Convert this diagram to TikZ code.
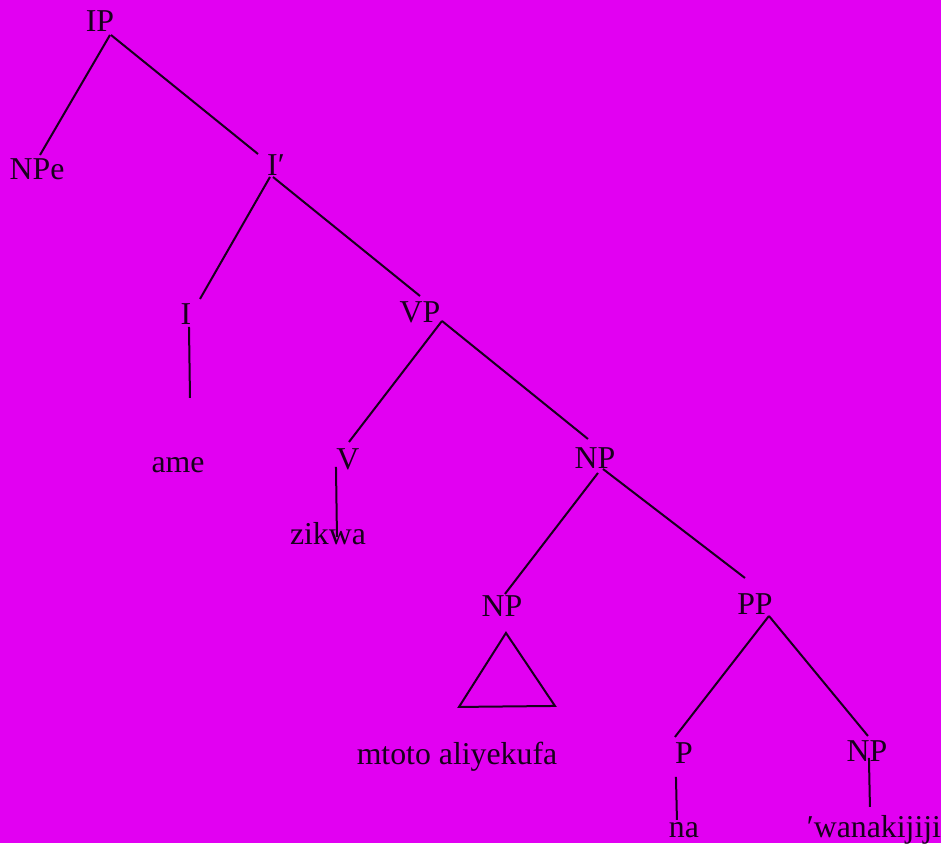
\documentclass[tikz,border=0pt]{standalone}
\usepackage{fontspec}
\setmainfont{Liberation Serif}
\usetikzlibrary{calc}
\definecolor{bgmag}{RGB}{226,0,242}
\definecolor{ink}{RGB}{24,0,28}
\begin{document}
\begin{tikzpicture}[x=1pt,y=-1pt,
  lbl/.style={anchor=base,inner sep=0pt,text=ink,font=\fontsize{31.8}{38}\selectfont},
  edge/.style={draw=ink,line width=2pt}]
\fill[bgmag] (0,0) rectangle (941,843);
% nodes
\node[lbl] (IP) at (100,32) {IP};
\node[lbl] (NPe) at (37,180) {NPe};
\node[lbl] (Ib) at (276,176) {I′};
\node[lbl] (I) at (186,325) {I};
\node[lbl] (VP) at (420,323) {VP};
\node[lbl] (ame) at (178,473) {ame};
\node[lbl] (V) at (348,470) {V};
\node[lbl] (zikwa) at (328,545) {zikwa};
\node[lbl] (NPa) at (595,469) {NP};
\node[lbl] (NPb) at (502,617) {NP};
\node[lbl] (PP) at (755,615) {PP};
\node[lbl] (mtoto) at (457,765) {mtoto aliyekufa};
\node[lbl] (P) at (684,764) {P};
\node[lbl] (NPc) at (867,762) {NP};
\node[lbl] (na) at (684,838) {na};
\node[lbl] (wana) at (874,838) {′wanakijiji};
% connectors
\draw[edge] ($(IP.base)+(10,3)$) -- ($(NPe.base)+(3,-25)$);
\draw[edge] ($(IP.base)+(11,3)$) -- ($(Ib.base)+(-18,-22)$);
\draw[edge] ($(Ib.base)+(-6,1)$) -- ($(I.base)+(14,-26)$);
\draw[edge] ($(Ib.base)+(-3,1)$) -- ($(VP.base)+(0,-27)$);
\draw[edge] ($(I.base)+(3,2)$) -- ($(ame.base)+(12,-75)$);
\draw[edge] ($(VP.base)+(22,-2)$) -- ($(V.base)+(1,-28)$);
\draw[edge] ($(VP.base)+(22,-2)$) -- ($(NPa.base)+(-7,-30)$);
\draw[edge] ($(V.base)+(-12,-3)$) -- ($(zikwa.base)+(9,-8)$);
\draw[edge] ($(NPa.base)+(3,4)$) -- ($(NPb.base)+(3,-23)$);
\draw[edge] ($(NPa.base)+(8,0)$) -- ($(PP.base)+(-10,-37)$);
\draw[edge] ($(PP.base)+(14,1)$) -- ($(P.base)+(-9,-27)$);
\draw[edge] ($(PP.base)+(14,1)$) -- ($(NPc.base)+(1,-26)$);
\draw[edge] ($(P.base)+(-8,13)$) -- ($(na.base)+(-7,-18)$);
\draw[edge] ($(NPc.base)+(2,-4)$) -- ($(wana.base)+(-4,-31)$);
\draw[edge,line join=miter] ($(NPb.base)+(4,16)$) -- ($(NPb.base)+(-43,90)$) -- ($(NPb.base)+(53,89)$) -- cycle;
\end{tikzpicture}
\end{document}
